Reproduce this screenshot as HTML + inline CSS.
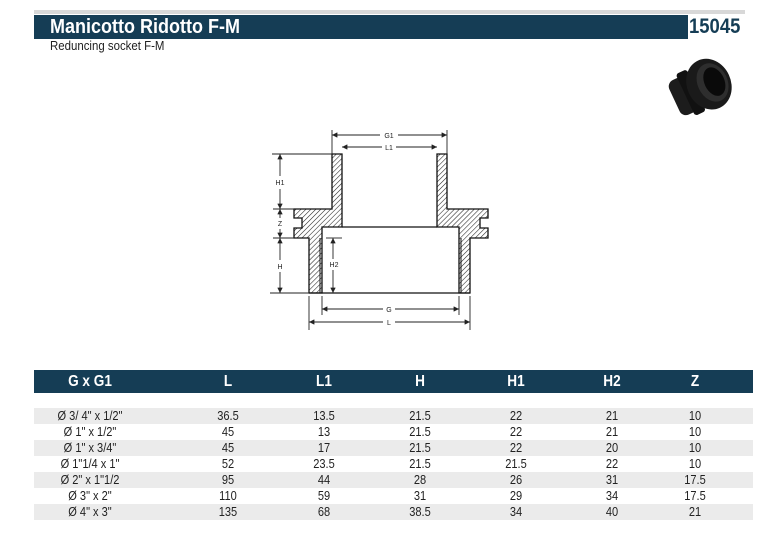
<!DOCTYPE html>
<html><head><meta charset="utf-8"><style>
body{margin:0;background:#fff;width:771px;height:543px;overflow:hidden;position:relative;font-family:"Liberation Sans",sans-serif}
.a{position:absolute}
.row{position:absolute;left:34px;width:719px;height:16px}
.row span{position:absolute;top:0;width:120px;margin-left:-60px;text-align:center;font-size:13px;line-height:16px;color:#222;transform:scaleX(0.85)}
.hd span{font-size:16px;line-height:23px;color:#fff;font-weight:bold}
.g{background:#ebebeb}
</style></head><body>
<div class="a" style="left:34px;top:10px;width:711px;height:4px;background:#d8d8d8"></div>
<div class="a" style="left:34px;top:15px;width:654px;height:24px;background:#153d55"></div>
<div class="a" style="left:50px;top:15px;color:#fff;font-size:20px;font-weight:bold;line-height:24px;transform:scaleX(0.9);transform-origin:left">Manicotto Ridotto F-M</div>
<div class="a" style="left:689px;top:15px;color:#153d55;font-size:21px;font-weight:bold;line-height:24px;transform:scaleX(0.88);transform-origin:left">15045</div>
<div class="a" style="left:50px;top:38px;font-size:13px;color:#222;transform:scaleX(0.88);transform-origin:left">Reduncing socket F-M</div>
<svg class="a" style="left:0;top:0" width="771" height="543">
<defs><pattern id="h" width="3.5" height="3.5" patternUnits="userSpaceOnUse" patternTransform="rotate(45)"><line x1="0" y1="0" x2="0" y2="4" stroke="#222" stroke-width="1.1"/></pattern>
<marker id="ar" markerWidth="6" markerHeight="6" refX="6" refY="3" orient="auto-start-reverse"><path d="M0,0 L6,3 L0,6z" fill="#222"/></marker></defs>
<g transform="rotate(-25 703 88)">
<rect x="672" y="68" width="22" height="38" rx="7" fill="#1c1c1c"/>
<rect x="684" y="64" width="12" height="46" rx="3" fill="#111"/>
<ellipse cx="710" cy="87" rx="22" ry="26" fill="#1a1a1a"/>
<ellipse cx="714" cy="87" rx="15" ry="20" fill="#2e2e2e"/>
<ellipse cx="716" cy="87" rx="10" ry="15" fill="#0a0a0a"/>
</g>
<path d="M332,154 L342,154 L342,227 L322,227 L322,293 L309,293 L309,238 L294,238 L294,228 L302,228 L302,218 L294,218 L294,209 L332,209Z" fill="url(#h)" stroke="#111" stroke-width="1.3"/>
<path d="M447,154 L437,154 L437,227 L459,227 L459,293 L470,293 L470,238 L488,238 L488,228 L480,228 L480,218 L488,218 L488,209 L447,209Z" fill="url(#h)" stroke="#111" stroke-width="1.3"/>
<line x1="342" y1="227" x2="437" y2="227" stroke="#111" stroke-width="1.3"/>
<line x1="320" y1="238" x2="320" y2="293" stroke="#111"/><line x1="461" y1="238" x2="461" y2="293" stroke="#111"/>
<line x1="309" y1="293" x2="470" y2="293" stroke="#111" stroke-width="1.3"/>
<g stroke="#222" stroke-width="0.9" fill="none">
<line x1="272" y1="154" x2="332" y2="154"/><line x1="270" y1="293" x2="309" y2="293"/>
<line x1="273" y1="209" x2="294" y2="209"/><line x1="273" y1="238" x2="294" y2="238"/>
<line x1="332" y1="130" x2="332" y2="154"/><line x1="447" y1="130" x2="447" y2="154"/>
<line x1="309" y1="296" x2="309" y2="330"/><line x1="470" y1="296" x2="470" y2="330"/>
<line x1="322" y1="296" x2="322" y2="315"/><line x1="459" y1="296" x2="459" y2="315"/>
<line x1="332" y1="135" x2="380" y2="135" marker-start="url(#ar)"/><line x1="398" y1="135" x2="447" y2="135" marker-end="url(#ar)"/>
<line x1="342" y1="147" x2="382" y2="147" marker-start="url(#ar)"/><line x1="396" y1="147" x2="437" y2="147" marker-end="url(#ar)"/>
<line x1="322" y1="309" x2="383" y2="309" marker-start="url(#ar)"/><line x1="395" y1="309" x2="459" y2="309" marker-end="url(#ar)"/>
<line x1="309" y1="322" x2="383" y2="322" marker-start="url(#ar)"/><line x1="395" y1="322" x2="470" y2="322" marker-end="url(#ar)"/>
<line x1="280" y1="154" x2="280" y2="176" marker-start="url(#ar)"/><line x1="280" y1="189" x2="280" y2="209" marker-end="url(#ar)"/>
<line x1="280" y1="209" x2="280" y2="218" marker-start="url(#ar)"/><line x1="280" y1="229" x2="280" y2="238" marker-end="url(#ar)"/>
<line x1="280" y1="238" x2="280" y2="260" marker-start="url(#ar)"/><line x1="280" y1="272" x2="280" y2="293" marker-end="url(#ar)"/>
<line x1="333" y1="238" x2="333" y2="259" marker-start="url(#ar)"/><line x1="333" y1="270" x2="333" y2="293" marker-end="url(#ar)"/>
<line x1="326" y1="238" x2="342" y2="238"/>
</g>
<g font-size="7" fill="#222" text-anchor="middle" font-family="Liberation Sans">
<text x="389" y="138">G1</text><text x="389" y="150">L1</text><text x="389" y="312">G</text><text x="389" y="325">L</text>
<text x="280" y="185">H1</text><text x="280" y="226">Z</text><text x="280" y="269">H</text><text x="334" y="267">H2</text>
</g>
</svg>
<div class="row hd" style="top:370px;height:23px;background:#153d55"><span style="left:56px">G x G1</span><span style="left:194px">L</span><span style="left:290px">L1</span><span style="left:386px">H</span><span style="left:482px">H1</span><span style="left:578px">H2</span><span style="left:661px">Z</span></div>
<div class="row g" style="top:408px"><span style="left:56px">Ø 3/ 4" x 1/2"</span><span style="left:194px">36.5</span><span style="left:290px">13.5</span><span style="left:386px">21.5</span><span style="left:482px">22</span><span style="left:578px">21</span><span style="left:661px">10</span></div>
<div class="row" style="top:424px"><span style="left:56px">Ø 1" x 1/2"</span><span style="left:194px">45</span><span style="left:290px">13</span><span style="left:386px">21.5</span><span style="left:482px">22</span><span style="left:578px">21</span><span style="left:661px">10</span></div>
<div class="row g" style="top:440px"><span style="left:56px">Ø 1" x 3/4"</span><span style="left:194px">45</span><span style="left:290px">17</span><span style="left:386px">21.5</span><span style="left:482px">22</span><span style="left:578px">20</span><span style="left:661px">10</span></div>
<div class="row" style="top:456px"><span style="left:56px">Ø 1"1/4 x 1"</span><span style="left:194px">52</span><span style="left:290px">23.5</span><span style="left:386px">21.5</span><span style="left:482px">21.5</span><span style="left:578px">22</span><span style="left:661px">10</span></div>
<div class="row g" style="top:472px"><span style="left:56px">Ø 2" x 1"1/2</span><span style="left:194px">95</span><span style="left:290px">44</span><span style="left:386px">28</span><span style="left:482px">26</span><span style="left:578px">31</span><span style="left:661px">17.5</span></div>
<div class="row" style="top:488px"><span style="left:56px">Ø 3" x 2"</span><span style="left:194px">110</span><span style="left:290px">59</span><span style="left:386px">31</span><span style="left:482px">29</span><span style="left:578px">34</span><span style="left:661px">17.5</span></div>
<div class="row g" style="top:504px"><span style="left:56px">Ø 4" x 3"</span><span style="left:194px">135</span><span style="left:290px">68</span><span style="left:386px">38.5</span><span style="left:482px">34</span><span style="left:578px">40</span><span style="left:661px">21</span></div>
</body></html>
